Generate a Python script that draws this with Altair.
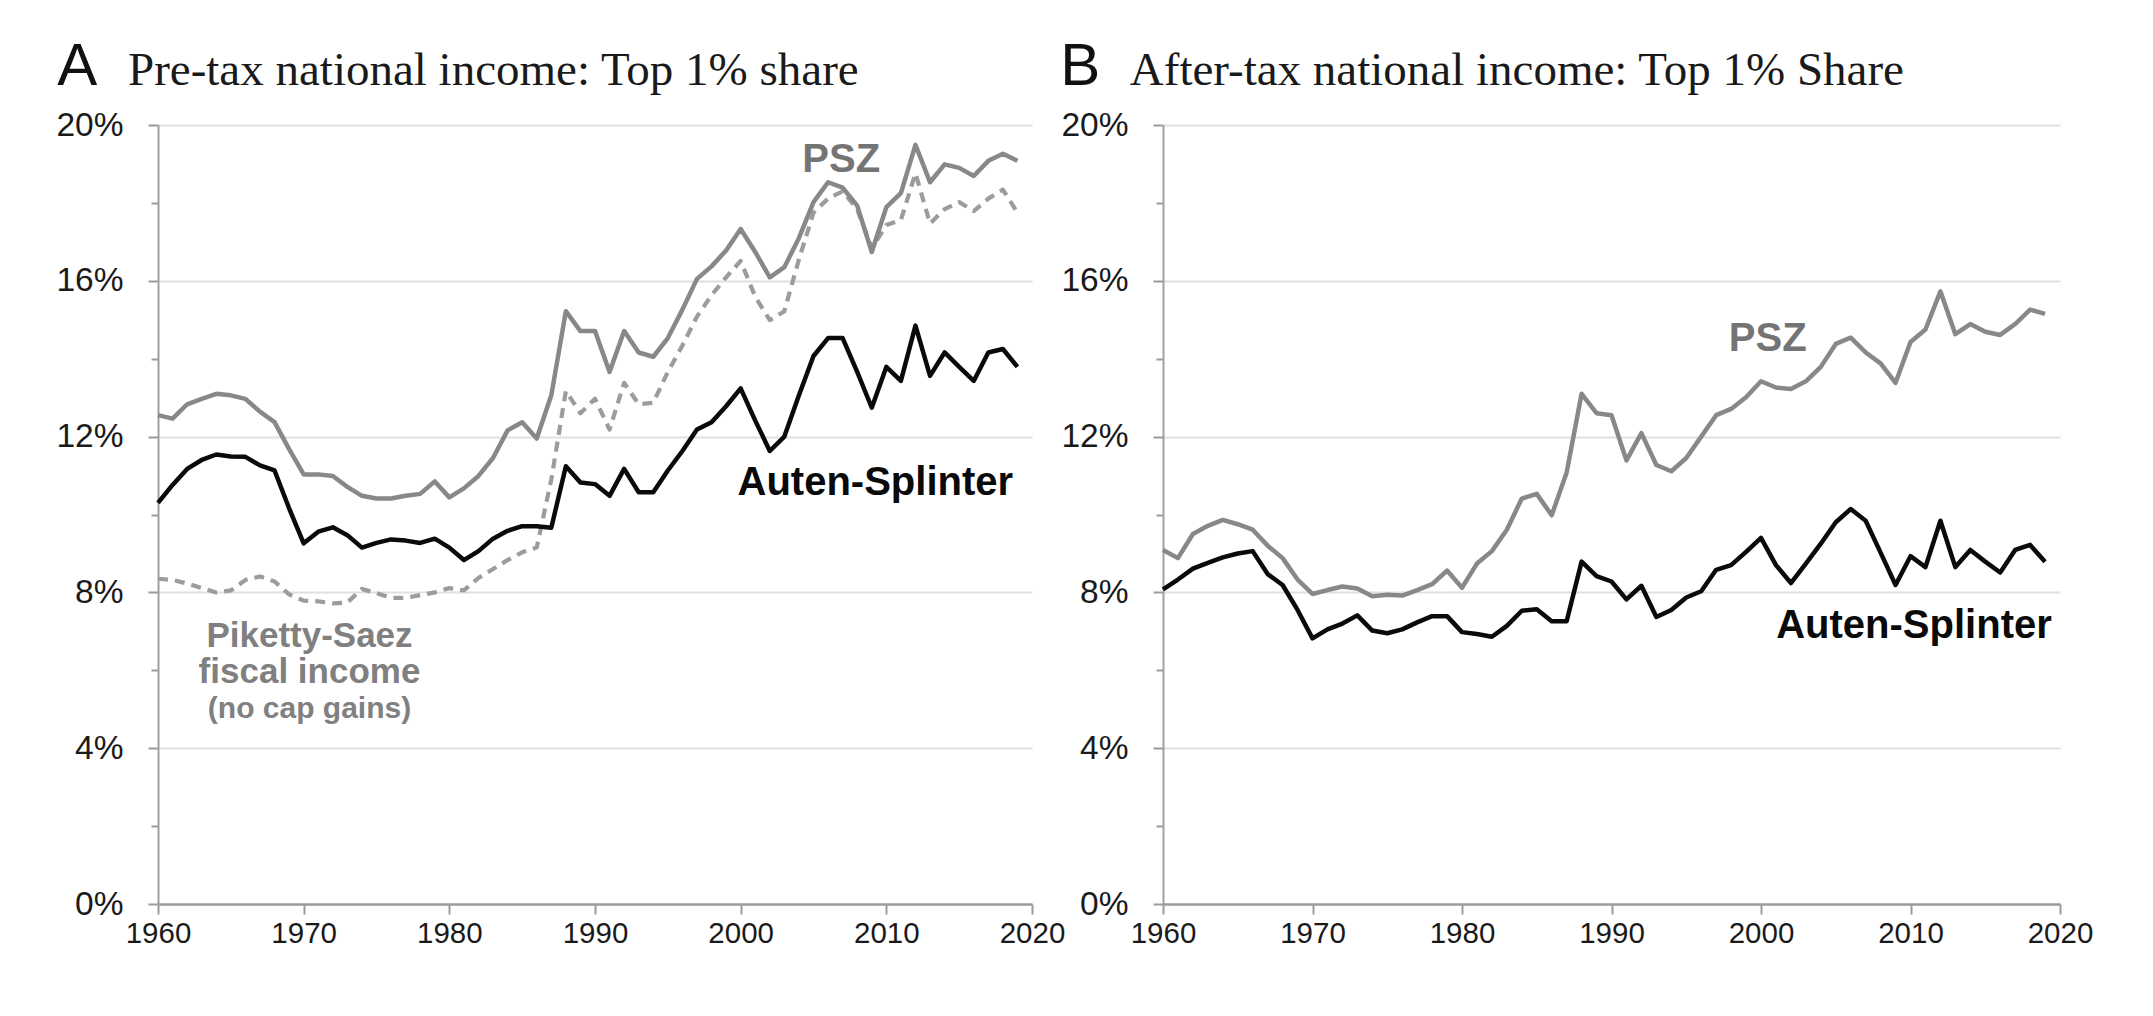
import altair as alt
import pandas as pd

# ---------------- data (percent of national income) ----------------
years = list(range(1960, 2020))

pre_psz = [12.55, 12.46, 12.83, 12.97, 13.10, 13.06, 12.97, 12.64, 12.37, 11.68,
           11.03, 11.03, 10.99, 10.71, 10.48, 10.41, 10.41, 10.48, 10.53, 10.85,
           10.44, 10.67, 10.99, 11.45, 12.16, 12.37, 11.95, 13.06, 15.22, 14.71,
           14.71, 13.66, 14.71, 14.16, 14.05, 14.53, 15.26, 16.05, 16.37, 16.78,
           17.33, 16.74, 16.09, 16.35, 17.10, 18.02, 18.53, 18.39, 17.93, 16.74,
           17.89, 18.25, 19.49, 18.53, 18.99, 18.90, 18.69, 19.08, 19.26, 19.08]

pre_as = [10.30, 10.76, 11.17, 11.40, 11.54, 11.49, 11.48, 11.26, 11.13, 10.16,
          9.26, 9.56, 9.67, 9.47, 9.15, 9.27, 9.36, 9.33, 9.27, 9.38,
          9.15, 8.83, 9.06, 9.38, 9.58, 9.70, 9.70, 9.66, 11.24, 10.82,
          10.78, 10.48, 11.17, 10.57, 10.57, 11.13, 11.63, 12.18, 12.37, 12.78,
          13.24, 12.41, 11.63, 12.00, 13.06, 14.07, 14.53, 14.53, 13.66, 12.74,
          13.79, 13.43, 14.85, 13.56, 14.16, 13.79, 13.43, 14.16, 14.25, 13.79]

pre_ps_fiscal = [8.35, 8.32, 8.23, 8.11, 8.00, 8.05, 8.32, 8.41, 8.28, 7.95,
                 7.79, 7.77, 7.72, 7.74, 8.09, 7.98, 7.86, 7.86, 7.93, 8.00,
                 8.11, 8.05, 8.37, 8.60, 8.83, 9.03, 9.15, 10.90, 13.17, 12.60,
                 12.97, 12.18, 13.38, 12.83, 12.87, 13.66, 14.34, 15.08, 15.63, 16.09,
                 16.51, 15.59, 14.99, 15.22, 16.55, 17.75, 18.11, 18.30, 17.84, 16.83,
                 17.43, 17.56, 18.76, 17.47, 17.84, 18.02, 17.79, 18.11, 18.34, 17.75]

post_psz = [9.09, 8.88, 9.50, 9.71, 9.86, 9.75, 9.61, 9.20, 8.88, 8.33,
            7.96, 8.06, 8.15, 8.10, 7.90, 7.94, 7.92, 8.06, 8.21, 8.56,
            8.12, 8.74, 9.06, 9.61, 10.41, 10.53, 9.98, 11.08, 13.10, 12.60,
            12.55, 11.39, 12.09, 11.27, 11.11, 11.45, 12.00, 12.55, 12.71, 13.01,
            13.42, 13.26, 13.22, 13.42, 13.79, 14.38, 14.54, 14.16, 13.88, 13.38,
            14.43, 14.75, 15.73, 14.63, 14.89, 14.69, 14.61, 14.89, 15.26, 15.15]

post_as = [8.08, 8.33, 8.61, 8.76, 8.90, 9.00, 9.06, 8.47, 8.19, 7.55,
           6.82, 7.05, 7.20, 7.41, 7.02, 6.95, 7.05, 7.23, 7.39, 7.39,
           6.98, 6.93, 6.86, 7.14, 7.53, 7.57, 7.26, 7.26, 8.79, 8.42,
           8.28, 7.82, 8.17, 7.37, 7.55, 7.87, 8.03, 8.58, 8.70, 9.04,
           9.40, 8.70, 8.24, 8.74, 9.25, 9.80, 10.14, 9.84, 9.02, 8.19,
           8.93, 8.65, 9.84, 8.65, 9.09, 8.79, 8.51, 9.09, 9.22, 8.79]

x_ticks = list(range(1960, 2021, 10))
y_ticks = list(range(0, 21, 2))

SANS = "Liberation Sans"
SERIF = "Liberation Serif"


def enc_x():
    return alt.X(
        "year:Q",
        scale=alt.Scale(domain=[1960, 2020], nice=False, zero=False),
        axis=alt.Axis(
            values=x_ticks, format="d", title=None, grid=False,
            tickSize=10, tickColor="#9a9a9a", tickWidth=2,
            labelPadding=5, labelFont=SANS, labelFontSize=29.5,
            labelColor="#1a1a1a", labelFlush=False, labelOverlap=False,
            domainColor="#9a9a9a", domainWidth=2.5,
        ),
    )


def enc_y():
    return alt.Y(
        "value:Q",
        scale=alt.Scale(domain=[0, 20], nice=False, zero=True),
        axis=alt.Axis(
            values=y_ticks, title=None,
            labelExpr="datum.value % 4 == 0 ? datum.value + '%' : ''",
            grid=True, gridColor="#e0e0e0", gridWidth=2,
            gridOpacity={"condition": {"test": "datum.value % 4 == 0 && datum.value > 0", "value": 1}, "value": 0},
            tickSize={"condition": {"test": "datum.value % 4 == 0", "value": 10}, "value": 7},
            tickColor="#9a9a9a", tickWidth=2,
            labelPadding=25, labelFont=SANS, labelFontSize=33.5, labelColor="#1a1a1a",
            domainColor="#a0a0a0", domainWidth=2,
        ),
    )


def line_layer(vals, color, width, dash=None):
    df = pd.DataFrame({"year": years, "value": vals})
    kw = dict(color=color, strokeWidth=width, strokeJoin="round", strokeCap="butt")
    if dash:
        kw["strokeDash"] = dash
    return alt.Chart(df).mark_line(**kw).encode(x=enc_x(), y=enc_y())


def text_layer(text, yr, val, size, color, weight="bold", align="center", font=SANS):
    df = pd.DataFrame({"year": [yr], "value": [val], "label": [text]})
    return alt.Chart(df).mark_text(
        align=align, baseline="alphabetic", font=font, fontSize=size,
        fontWeight=weight, color=color,
    ).encode(x=enc_x(), y=enc_y(), text="label:N")


panel_a = alt.layer(
    line_layer(pre_ps_fiscal, "#9c9c9c", 4.2, [10, 7]),
    line_layer(pre_psz, "#888888", 4.5),
    line_layer(pre_as, "#0a0a0a", 4.5),
    text_layer("PSZ", 2006.9, 18.79, 40, "#747474"),
    text_layer("Auten-Splinter", 2018.7, 10.5, 40, "#0a0a0a", align="right"),
    text_layer("Piketty-Saez", 1970.4, 6.6, 35, "#808080"),
    text_layer("fiscal income", 1970.4, 5.67, 35, "#808080"),
    text_layer("(no cap gains)", 1970.4, 4.78, 30, "#808080"),
    text_layer("A", 1954.45, 21.03, 60, "#111111", weight="normal"),
    text_layer("Pre-tax national income: Top 1% share", 1957.94, 21.03, 47, "#1a1a1a",
               weight="normal", align="left", font=SERIF),
).properties(width=874, height=779)

panel_b = alt.layer(
    line_layer(post_psz, "#888888", 4.5),
    line_layer(post_as, "#0a0a0a", 4.5),
    text_layer("PSZ", 2000.45, 14.2, 40, "#747474"),
    text_layer("Auten-Splinter", 2019.45, 6.83, 40, "#0a0a0a", align="right"),
    text_layer("B", 1954.46, 21.03, 60, "#111111", weight="normal"),
    text_layer("After-tax national income: Top 1% Share", 1957.78, 21.03, 47, "#1a1a1a",
               weight="normal", align="left", font=SERIF),
).properties(width=897, height=779)

chart = (
    alt.hconcat(panel_a, panel_b, spacing=-5)
    .properties(padding={"left": 47, "top": 28, "right": 10, "bottom": 10}, background="white")
    .configure_view(stroke=None)
)

chart.save("out.html", embed_options={"renderer": "svg", "actions": False})
